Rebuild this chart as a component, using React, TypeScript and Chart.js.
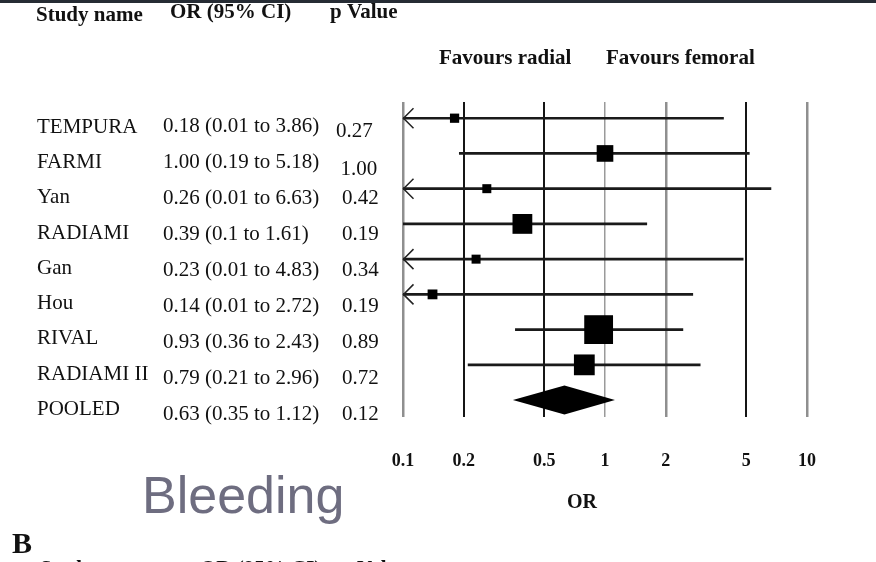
import React, { useEffect, useRef } from 'react';
import { Chart, registerables } from 'chart.js';

Chart.register(...registerables);

// ---- data ----
const studies = ['TEMPURA', 'FARMI', 'Yan', 'RADIAMI', 'Gan', 'Hou', 'RIVAL', 'RADIAMI II'];
const oddsRatios = [0.18, 1.0, 0.26, 0.39, 0.23, 0.14, 0.93, 0.79];
const ciLower = [0.01, 0.19, 0.01, 0.1, 0.01, 0.01, 0.36, 0.21];
const ciUpper = [3.86, 5.18, 6.63, 1.61, 4.83, 2.72, 2.43, 2.96];
const pValues = [0.27, 1.0, 0.42, 0.19, 0.34, 0.19, 0.89, 0.72];

const pooledName = 'POOLED';
const pooledOR = 0.63;
const pooledLower = 0.35;
const pooledUpper = 1.12;
const pooledP = 0.12;

const xTicks = [0.1, 0.2, 0.5, 1, 2, 5, 10];
const xTickLabels = ['0.1', '0.2', '0.5', '1', '2', '5', '10'];

const headers = ['Study name', 'OR (95% CI)', 'p Value'];
const favourLabels = ['Favours radial', 'Favours femoral'];
const axisTitle = 'OR';
const overlayTitle = 'Bleeding';
const panelLetter = 'B';

// ---- styles ----
const SERIF = '"Liberation Serif", "Times New Roman", serif';
const SANS = '"Liberation Sans", Arial, sans-serif';
const gridColors = ['#8f8f8f', '#151515', '#151515', '#9a9a9a', '#8f8f8f', '#151515', '#8f8f8f'];
const gridWidths = [2.5, 2, 2, 1.5, 2.5, 2, 2.5];

const ciText = (or: number, lo: number, hi: number) => `${or.toFixed(2)} (${lo} to ${hi})`;

const forestPlugin = {
  id: 'forestDecor',
  afterDatasetsDraw(chart: any) {
    const { ctx, chartArea } = chart;
    const xs = chart.scales.x;
    const ys = chart.scales.y;
    ctx.save();
    // arrows for truncated lower limits
    ctx.strokeStyle = '#222';
    ctx.lineWidth = 1.5;
    ciLower.forEach((lo, i) => {
      if (lo < xs.min) {
        const y = ys.getPixelForValue(i + 1);
        const x0 = chartArea.left + 0.5;
        ctx.beginPath();
        ctx.moveTo(x0 + 10, y - 10);
        ctx.lineTo(x0, y);
        ctx.lineTo(x0 + 10, y + 10);
        ctx.stroke();
      }
    });
    // pooled diamond
    const yp = ys.getPixelForValue(studies.length + 1);
    const xl = xs.getPixelForValue(pooledLower);
    const xm = xs.getPixelForValue(pooledOR);
    const xr = xs.getPixelForValue(pooledUpper);
    ctx.fillStyle = '#000';
    ctx.beginPath();
    ctx.moveTo(xl, yp);
    ctx.lineTo(xm, yp - 14.5);
    ctx.lineTo(xr, yp);
    ctx.lineTo(xm, yp + 14.5);
    ctx.closePath();
    ctx.fill();
    ctx.restore();
  },
  afterDraw(chart: any) {
    const { ctx } = chart;
    const ys = chart.scales.y;
    ctx.save();
    // top dark band
    ctx.fillStyle = '#262c34';
    ctx.fillRect(0, 0, chart.width, 3);

    ctx.fillStyle = '#111';
    ctx.textAlign = 'left';
    ctx.textBaseline = 'alphabetic';
    ctx.font = `bold 21px ${SERIF}`;
    ctx.fillText(headers[0], 36, 21);
    ctx.fillText(headers[1], 170, 18);
    ctx.fillText(headers[2], 330, 18);
    ctx.fillText(favourLabels[0], 439, 64);
    ctx.fillText(favourLabels[1], 606, 64);

    // table rows
    const names = [...studies, pooledName];
    const cis = [
      ...studies.map((_, i) => ciText(oddsRatios[i], ciLower[i], ciUpper[i])),
      ciText(pooledOR, pooledLower, pooledUpper),
    ];
    const ps = [...pValues, pooledP].map((p) => p.toFixed(2));
    const pNudgeX = [-6, -1.5, 0, 0, 0, 0, 0, 0, 0];
    const pNudgeY = [5, 7.5, 0, 0, 0, 0, 0, 0, 0];
    ctx.font = `21px ${SERIF}`;
    ctx.textBaseline = 'middle';
    names.forEach((n, i) => {
      const rowY = ys.getPixelForValue(i + 1);
      ctx.fillText(n, 37, rowY + 9.3);
      const cy = rowY + 7.8 + i * 0.87;
      ctx.fillText(cis[i], 163, cy);
      ctx.fillText(ps[i], 342 + pNudgeX[i], cy + pNudgeY[i]);
    });

    // axis title
    ctx.font = `bold 20px ${SERIF}`;
    ctx.textAlign = 'center';
    ctx.fillText(axisTitle, 582, 503);

    // overlay title
    ctx.textAlign = 'left';
    ctx.textBaseline = 'alphabetic';
    ctx.fillStyle = '#6e6d80';
    ctx.font = `52px ${SANS}`;
    ctx.fillText(overlayTitle, 142, 513);

    // panel letter + cut-off next header
    ctx.fillStyle = '#111';
    ctx.font = `bold 30px ${SERIF}`;
    ctx.fillText(panelLetter, 12, 553);
    ctx.font = `bold 21px ${SERIF}`;
    ctx.fillText(headers[0], 40, 575);
    ctx.fillText(headers[1], 200, 575);
    ctx.fillText(headers[2], 340, 575);
    ctx.restore();
  },
};

export default function App() {
  const canvasRef = useRef<HTMLCanvasElement | null>(null);

  useEffect(() => {
    const canvas = canvasRef.current;
    if (!canvas) return;
    const chart = new Chart(canvas, {
      type: 'scatter',
      data: {
        datasets: [
          {
            type: 'scatter',
            label: 'OR',
            data: studies.map((_, i) => ({ x: oddsRatios[i], y: i + 1 })),
            pointStyle: 'rect',
            pointRadius: studies.map((_, i) => {
              const side = Math.max(9, 55 / Math.log(ciUpper[i] / ciLower[i]));
              return side / (2 * Math.SQRT1_2);
            }),
            pointHoverRadius: 0,
            backgroundColor: '#000',
            borderWidth: 0,
            order: 1,
          } as any,
          {
            type: 'bar',
            label: '95% CI',
            indexAxis: 'y',
            data: studies.map((_, i) => ({ x: [ciLower[i], ciUpper[i]], y: i + 1 })),
            backgroundColor: '#1a1a1a',
            borderWidth: 0,
            barThickness: 2,
            order: 2,
          } as any,
        ],
      },
      options: {
        animation: false,
        responsive: false,
        events: [],
        layout: { padding: { left: 403, right: 69, top: 102, bottom: 55.6 } },
        plugins: { legend: { display: false }, tooltip: { enabled: false } },
        scales: {
          x: {
            type: 'logarithmic',
            position: 'bottom',
            offset: false,
            min: xTicks[0],
            max: xTicks[xTicks.length - 1],
            afterBuildTicks: (scale: any) => {
              scale.ticks = xTicks.map((v) => ({ value: v }));
            },
            ticks: {
              autoSkip: false,
              maxRotation: 0,
              padding: 33.9,
              color: '#111',
              font: { family: SERIF, size: 18, weight: 'bold' },
              callback: (_v: any, index: number) => xTickLabels[index],
            },
            grid: {
              offset: false,
              drawTicks: false,
              color: (c: any) => gridColors[c.index] ?? '#888',
              lineWidth: (c: any) => gridWidths[c.index] ?? 2,
            },
            border: { display: false },
          },
          y: {
            type: 'linear',
            display: false,
            offset: false,
            reverse: true,
            min: 0.54,
            max: 9.48,
          },
        },
      } as any,
      plugins: [forestPlugin],
    });
    return () => chart.destroy();
  }, []);

  return (
    <div style={{ position: 'absolute', left: 0, top: 0, width: 876, height: 562, background: '#fff' }}>
      <canvas ref={canvasRef} width={876} height={562} style={{ display: 'block' }} />
    </div>
  );
}
